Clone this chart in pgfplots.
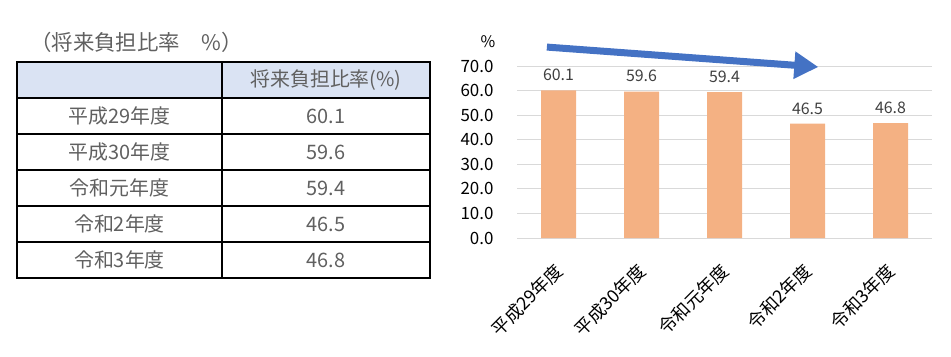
\documentclass[border=0pt]{standalone}
\usepackage{pgfplots}
\pgfplotsset{compat=1.18}
\usetikzlibrary{arrows.meta}
\usepackage{fontspec}
\setmainfont{Noto Sans CJK JP}
\definecolor{barc}{HTML}{F4B183}
\definecolor{arrc}{HTML}{4472C4}
\definecolor{hdr}{HTML}{DAE3F3}
\definecolor{txt}{HTML}{606060}
\definecolor{lbl}{HTML}{404040}
\definecolor{gridc}{HTML}{D9D9D9}
\begin{document}
\begin{tikzpicture}[x=1bp,y=1bp]
\path[use as bounding box] (0,0) rectangle (951,356);
% ---- table ----
\node[anchor=west, text=txt, font=\fontsize{21.5}{24}\selectfont, inner sep=0] at (30,314) {（将来負担比率　\%）};
\fill[hdr] (17,294) rectangle (430,258);
\foreach \y in {258,222,186,150,114} \draw[line width=1.3bp] (17,\y) -- (430,\y);
\draw[line width=1.5bp] (222,294) -- (222,78);
\draw[line width=1.5bp] (17,294) rectangle (430,78);
\begin{scope}[every node/.style={text=txt, font=\fontsize{20}{24}\selectfont, inner sep=0}]
\node at (326,276) {将来負担比率(\%)};
\node at (119.5,240) {平成29年度}; \node at (326,240) {60.1};
\node at (119.5,204) {平成30年度}; \node at (326,204) {59.6};
\node at (119.5,168) {令和元年度}; \node at (326,168) {59.4};
\node at (119.5,132) {令和2年度};  \node at (326,132) {46.5};
\node at (119.5,96)  {令和3年度};  \node at (326,96)  {46.8};
\end{scope}
% ---- chart ----
\node[anchor=center, text=black, font=\fontsize{16}{18}\selectfont] at (488,314) {\%};
\begin{axis}[
  at={(517bp,118bp)}, anchor=south west, scale only axis,
  width=415bp, height=172bp,
  xmin=-0.5, xmax=4.5, ymin=0, ymax=70,
  ytick={0,10,...,70},
  xtick={0,1,2,3,4},
  xticklabels={平成29年度,平成30年度,令和元年度,令和2年度,令和3年度},
  xticklabel style={rotate=45, anchor=north east, font=\fontsize{18}{20}\selectfont, text=black, inner sep=1bp, xshift=-19bp, yshift=-12bp},
  yticklabel style={font=\fontsize{17}{20}\selectfont, text=black, xshift=-20bp},
  /pgf/number format/assume math mode=true,
  yticklabel={\pgfmathprintnumber[fixed, fixed zerofill, precision=1]{\tick}},
  axis line style={draw=none},
  major tick length=0pt,
  ymajorgrids, grid style={gridc, line width=0.9bp},
  clip=false,
]
\addplot[ybar, bar width=35bp, fill=barc, draw=none,
  nodes near coords={\pgfmathprintnumber[fixed, fixed zerofill, precision=1, assume math mode=true]{\pgfplotspointmeta}},
  nodes near coords style={font=\fontsize{16}{18}\selectfont, text=lbl, yshift=6bp}]
  coordinates {(0,60.1) (1,59.6) (2,59.4) (3,46.5) (4,46.8)};
\draw[arrc, line width=7bp, -{Triangle[width=26bp,length=24bp]}] (axis cs:-0.14,77.7) -- (axis cs:3.13,69.6);
\end{axis}
\end{tikzpicture}
\end{document}
